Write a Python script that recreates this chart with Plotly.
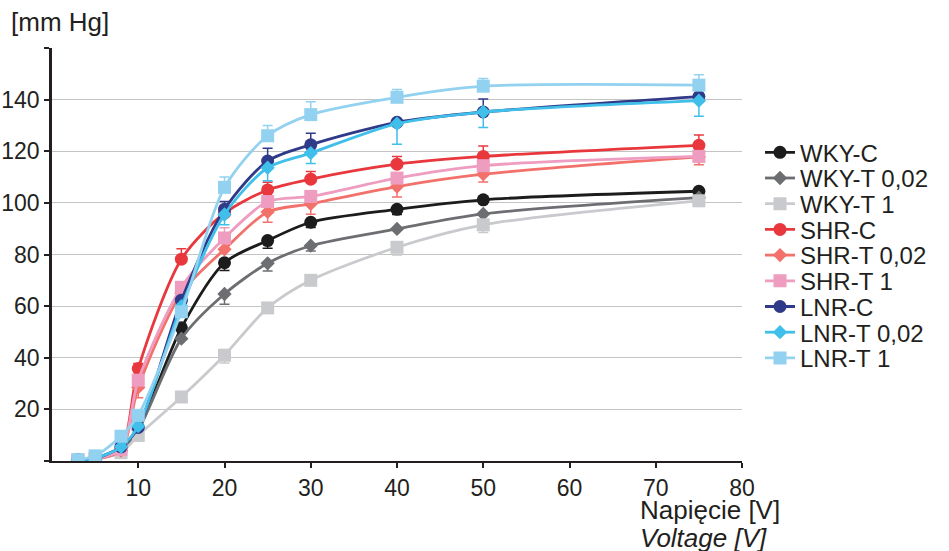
import plotly.graph_objects as go

voltage = [3, 5, 8, 10, 15, 20, 25, 30, 40, 50, 75]

series_names = ["WKY-C", "WKY-T 0,02", "WKY-T 1",
                "SHR-C", "SHR-T 0,02", "SHR-T 1",
                "LNR-C", "LNR-T 0,02", "LNR-T 1"]

wky_c = [0.5, 0.5, 5, 12.6, 51.6, 76.8, 85.4, 92.5, 97.5, 101.2, 104.5]
wky_t002 = [0.3, 0.5, 4, 12, 47.4, 64.7, 76.6, 83.4, 89.9, 95.7, 102]
wky_t1 = [0.3, 1, 3.2, 9.9, 24.8, 41, 59.3, 70, 82.8, 91.5, 100.8]
shr_c = [0.3, 1, 5, 35.8, 78.2, 96, 105, 109.2, 115, 118, 122.3]
shr_t002 = [0.3, 0.8, 4, 28.5, 65, 82, 96.5, 99.6, 106.3, 111.1, 117.8]
shr_t1 = [0.3, 0.8, 4.5, 31.3, 67.3, 86.4, 100.5, 102.5, 109.6, 114.4, 118]
lnr_c = [0.5, 1, 5.5, 13, 62.3, 97.5, 116.2, 122.5, 131.2, 135.2, 141.2]
lnr_t002 = [0.5, 1, 5.5, 13.5, 60, 95.5, 113.6, 119.3, 130.7, 135.2, 139.6]
lnr_t1 = [0.5, 2, 9.6, 17.7, 57.8, 106, 126, 134.2, 140.9, 145.2, 145.6]

err_up = [
    [0, 0, 0, 0, 0, 0, 0, 0, 0, 0, 0],
    [0, 0, 0, 0, 0, 0, 0, 0, 0, 0, 0],
    [0, 0, 0, 0, 0, 0, 0, 0, 0, 0, 0],
    [0, 0, 0, 2, 4, 3, 3, 3, 3, 4, 4],
    [0, 0, 0, 0, 0, 0, 0, 0, 0, 0, 0],
    [0, 0, 0, 0, 0, 4, 0, 2, 0, 0, 0],
    [0, 0, 0, 0, 0, 3, 5, 4.5, 0, 5, 0],
    [0, 0, 0, 0, 0, 0, 0, 0, 0, 0, 0],
    [0, 0, 0, 0, 0, 4, 4, 5, 3, 3, 4],
]
err_down = [
    [0, 0, 0, 0, 0, 3, 3, 2, 2, 0, 0],
    [0, 0, 0, 0, 0, 4, 3, 2, 0, 0, 0],
    [0, 0, 0, 0, 0, 3, 0, 0, 3, 3, 2],
    [0, 0, 0, 0, 0, 0, 0, 0, 0, 0, 0],
    [0, 0, 0, 4, 0, 0, 4, 4, 4, 3, 3],
    [0, 0, 0, 0, 0, 0, 0, 0, 0, 0, 0],
    [0, 0, 0, 0, 0, 0, 0, 0, 0, 0, 0],
    [0, 0, 0, 0, 0, 4, 5, 4, 8, 6, 6],
    [0, 0, 0, 0, 0, 0, 0, 0, 0, 0, 0],
]

values = [wky_c, wky_t002, wky_t1, shr_c, shr_t002, shr_t1, lnr_c, lnr_t002, lnr_t1]
colors = ["#1c1c1c", "#6d6e71", "#c9cacd",
          "#e8383d", "#f2716a", "#ee9cc0",
          "#2f3b88", "#3fbfe9", "#92d2f0"]
symbols = ["circle", "diamond", "square"] * 3
sizes = [13, 11, 13] * 3

y_ticks = [0, 20, 40, 60, 80, 100, 120, 140, 160]
y_ticktext = ["", "20", "40", "60", "80", "100", "120", "140", ""]
x_ticks = [10, 20, 30, 40, 50, 60, 70, 80]

font_family = "Liberation Sans, Arial, sans-serif"
text_col = "#231f20"

# target screen geometry (page body margin is removed below)
W, H = 949, 551
X0_S, X1_S = 52, 742      # screen x of voltage 0 and 80
Y0_S, Y1_S = 461, 48      # screen y of value 0 and 160
M_L = X0_S
M_R = W - X1_S
M_T = Y1_S
M_B = H - Y0_S
plot_w = W - M_L - M_R
plot_h = H - M_T - M_B


def px(xs):
    return (xs - X0_S) / plot_w


def py(ys):
    return (Y0_S - ys) / plot_h


fig = go.Figure()
legend_layout = {}
for i, (name, vals, col, sym, sz, eu, ed) in enumerate(
        zip(series_names, values, colors, symbols, sizes, err_up, err_down)):
    key = "legend" if i == 0 else f"legend{i + 1}"
    fig.add_trace(go.Scatter(
        x=voltage, y=vals, name=name, mode="lines+markers",
        line=dict(color=col, width=2.8, shape="spline", smoothing=0.8),
        marker=dict(color=col, symbol=sym, size=sz),
        error_y=dict(type="data", symmetric=False, array=eu, arrayminus=ed,
                     color=col, thickness=1.5, width=5),
        legend=key,
    ))
    y_px = 152.7 + 25.7 * i
    legend_layout[key] = dict(
        x=px(760), y=py(y_px), xanchor="left", yanchor="middle",
        font=dict(size=24, family=font_family, color=text_col),
        itemwidth=30, bgcolor="rgba(0,0,0,0)", borderwidth=0)

fig.update_layout(
    width=W, height=H,
    margin=dict(l=M_L, r=M_R, t=M_T, b=M_B),
    paper_bgcolor="white", plot_bgcolor="white",
    font=dict(family=font_family, color=text_col, size=23),
    showlegend=True,
    xaxis=dict(range=[0, 80], tickvals=x_ticks, showgrid=False,
               showline=True, linecolor="#231f20", linewidth=2,
               ticks="outside", ticklen=5, tickwidth=2, tickcolor="#231f20",
               zeroline=False, tickfont=dict(size=23), automargin=False),
    yaxis=dict(range=[0, 160], tickvals=y_ticks, ticktext=y_ticktext,
               showgrid=True, gridcolor="#c4c4c4", gridwidth=1.2,
               showline=True, linecolor="#231f20", linewidth=2.5,
               ticks="outside", ticklen=5, tickwidth=2, tickcolor="#231f20",
               zeroline=False, tickfont=dict(size=23), automargin=False),
    annotations=[
        dict(text="[mm Hg]", xref="paper", yref="paper", x=px(9), y=py(22),
             xanchor="left", yanchor="middle", showarrow=False,
             font=dict(size=26, family=font_family, color=text_col)),
        dict(text="Napięcie [V]", xref="paper", yref="paper", x=px(638), y=py(510),
             xanchor="left", yanchor="middle", showarrow=False,
             font=dict(size=26, family=font_family, color=text_col)),
        dict(text="<i>Voltage [V]</i>", xref="paper", yref="paper", x=px(638), y=py(538),
             xanchor="left", yanchor="middle", showarrow=False,
             font=dict(size=26, family=font_family, color=text_col)),
    ],
    **legend_layout,
)

fig.write_html("out.html", config={"displayModeBar": False},
               post_script="document.body.style.margin='0';document.body.style.overflow='hidden';")
